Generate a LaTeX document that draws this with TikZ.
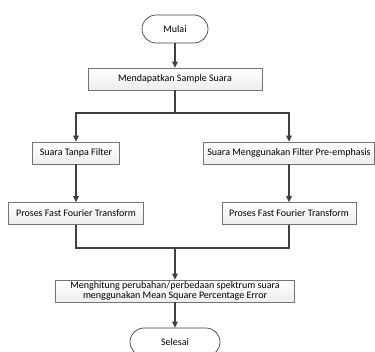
\documentclass[tikz,border=0pt]{standalone}
\usepackage{fontspec}
\setmainfont{Carlito}
\usetikzlibrary{arrows.meta,shadows}

\begin{document}
\begin{tikzpicture}[x=1pt,y=-1pt,
    proses/.style={draw=black!55, line width=0.7pt, top color=white, bottom color=black!7,
        minimum height=22pt, inner sep=0.5pt, align=center,
        font=\fontsize{10}{10.5}\selectfont,
        drop shadow={shadow xshift=0.8pt, shadow yshift=-0.8pt, fill=black!45}},
    terminal/.style={draw=black!75, line width=0.7pt, fill=white, rounded corners=14pt,
        minimum height=28pt, font=\fontsize{10}{10.5}\selectfont},
    garis/.style={draw=black!75, line width=1.3pt},
    >={Triangle[length=6pt,width=5.5pt]}]
    \useasboundingbox (0,0) rectangle (375,351);
    \node[terminal, minimum width=66pt] (mulai) at (175,29) {Mulai};
    \node[proses, minimum width=174pt] (sampel) at (175,79) {Mendapatkan Sample Suara};
    \coordinate (cabang) at (175,113);
    \node[proses, minimum width=87pt] (tanpa) at (76,153) {Suara Tanpa Filter};
    \node[proses, minimum width=171pt] (preemph) at (289,153) {Suara Menggunakan Filter Pre-emphasis};
    \node[proses, minimum width=135pt] (fftkiri) at (76,213.5) {Proses Fast Fourier Transform};
    \node[proses, minimum width=134pt] (fftkanan) at (289,213.5) {Proses Fast Fourier Transform};
    \coordinate (gabung) at (175,248);
    \node[proses, minimum width=239pt] (hitung) at (175,291) {Menghitung perubahan/perbedaan spektrum suara\\menggunakan Mean Square Percentage Error};
    \node[terminal, minimum width=90pt] (selesai) at (175,342) {Selesai};
    % panah
    \draw[garis,->] (mulai) -- (sampel);
    \draw[garis] (sampel) -- (cabang);
    \draw[garis,->] (cabang) -| (tanpa);
    \draw[garis,->] (cabang) -| (preemph);
    \draw[garis,->] (tanpa) -- (fftkiri);
    \draw[garis,->] (preemph) -- (fftkanan);
    \draw[garis] (fftkiri) |- (gabung);
    \draw[garis] (fftkanan) |- (gabung);
    \draw[garis,->] (gabung) -- (hitung);
    \draw[garis,->] (hitung) -- (selesai);
\end{tikzpicture}
\end{document}
